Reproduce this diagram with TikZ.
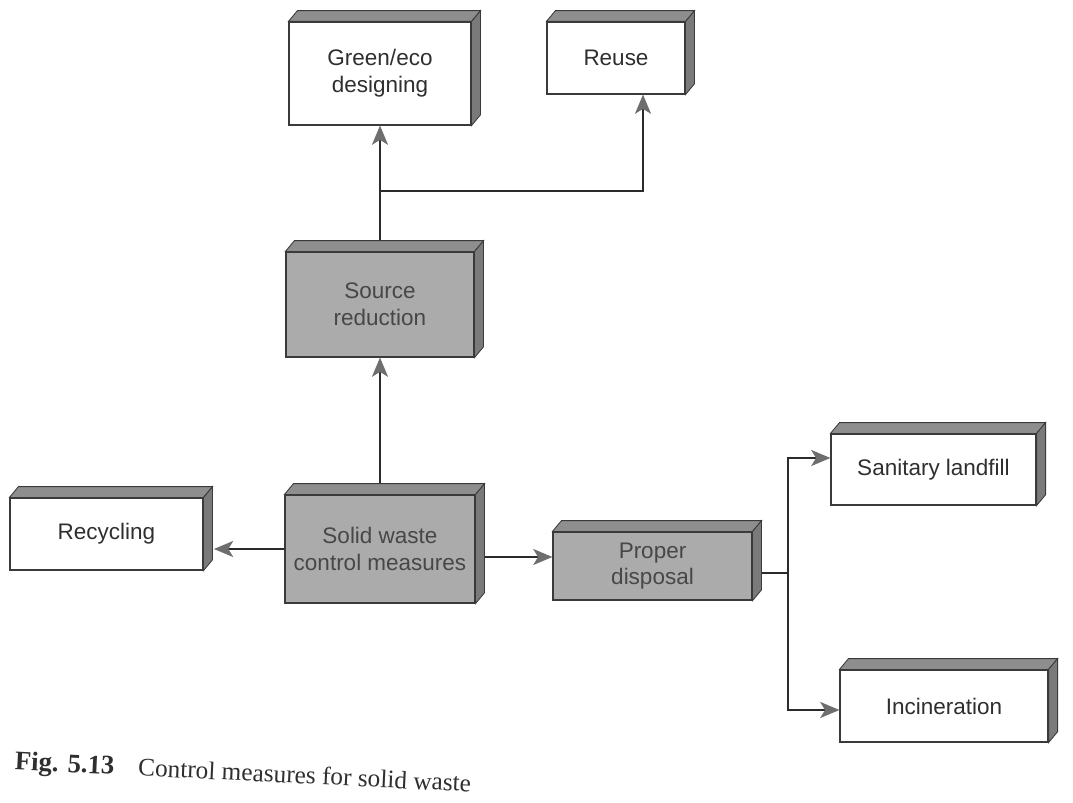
\documentclass[tikz,border=0pt]{standalone}
\usepackage{fontspec}
\setmainfont{Liberation Serif}
\setsansfont{Liberation Sans}
\usetikzlibrary{arrows.meta,calc}
\definecolor{edgegray}{HTML}{3A3A3A}
\definecolor{linegray}{HTML}{2B2B2B}
\definecolor{tipgray}{HTML}{6E6E6E}
\definecolor{slabgray}{HTML}{ABABAB}
\definecolor{topgray}{HTML}{8E8E8E}
\definecolor{sidegray}{HTML}{7A7A7A}
\definecolor{inkgray}{HTML}{2F2F2F}
\definecolor{softink}{HTML}{474747}

\begin{document}
\begin{tikzpicture}[
  slab/.style={draw=edgegray,line width=0.8pt,fill=white,inner sep=0pt,align=center,
    text=inkgray,font=\sffamily\fontsize{16}{19}\selectfont},
  grayslab/.style={slab,fill=slabgray,text=softink},
  link/.style={linegray,line width=1.3pt},
  arr/.style={link,-{Stealth[length=4.8mm,width=4mm,inset=1.2mm,color=tipgray]}}
]
  \fill[white] (0,0) rectangle (26.825,20.075);
  \useasboundingbox (0,0) rectangle (26.825,20.075);

  \node[slab,minimum width=4.55cm,minimum height=2.575cm] (green) at (9.5,18.2375) {Green/eco\\designing};
  \node[slab,minimum width=3.45cm,minimum height=1.8cm] (reuse) at (15.4,18.625) {Reuse};
  \node[grayslab,minimum width=4.7cm,minimum height=2.625cm] (source) at (9.5,12.4625) {Source\\reduction};
  \node[grayslab,minimum width=4.75cm,minimum height=2.7cm] (solid) at (9.5,6.35) {Solid waste\\control measures};
  \node[slab,minimum width=4.825cm,minimum height=1.8cm] (recycling) at (2.6625,6.725) {Recycling};
  \node[grayslab,minimum width=4.975cm,minimum height=1.7cm] (disposal) at (16.3125,5.925) {Proper\\disposal};
  \node[slab,minimum width=5.125cm,minimum height=1.775cm] (landfill) at (23.3375,8.3375) {Sanitary landfill};
  \node[slab,minimum width=5.2cm,minimum height=1.8cm] (incineration) at (23.6,2.425) {Incineration};

  \coordinate (fork) at (9.5,15.3);
  \coordinate (split) at (19.7,5.75);
  \coordinate (sd) at ($(solid.east)+(0,-0.2)$);
  \coordinate (rc) at (solid.west -| recycling.east);

  \draw[link] (source.north) -- (fork);
  \draw[arr] (fork) -- (green.south);
  \draw[arr] (fork) -| ([xshift=6.75mm]reuse.south);
  \draw[arr] (solid.north) -- (source.south);
  \draw[arr] (solid.west) -- ($(rc)+(0.26,0)$);
  \draw[arr] (sd) -- (sd -| disposal.west);
  \draw[link] (split -| disposal.east) -- (split);
  \draw[arr] (split) |- ($(landfill.west)+(0,0.2875)$);
  \draw[arr] (split) |- ($(incineration.west)+(0,-0.1)$);

  \foreach \n in {green,reuse,source,solid,recycling,disposal,landfill,incineration}{
    \filldraw[draw=edgegray,line width=0.6pt,fill=topgray]
      (\n.north west) -- ++(0.225,0.27) -- ([shift={(0.225,0.27)}]\n.north east) -- (\n.north east) -- cycle;
    \filldraw[draw=edgegray,line width=0.6pt,fill=sidegray]
      (\n.north east) -- ++(0.225,0.27) -- ([shift={(0.225,0.27)}]\n.south east) -- (\n.south east) -- cycle;
  }

  \node[anchor=west,rotate=-2.8,text=inkgray,font=\fontsize{18}{21}\selectfont] (caption) at (0.25,1.0)
    {{\fontsize{19}{21}\selectfont\textbf{Fig. 5.13}}\hspace{0.6cm}Control measures for solid waste};
\end{tikzpicture}
\end{document}
